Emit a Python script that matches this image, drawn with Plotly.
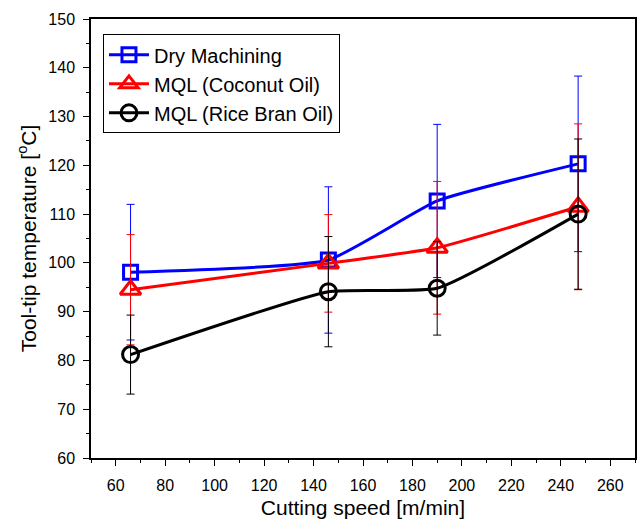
import plotly.graph_objects as go

speed = [66, 146, 190, 247]

dry = [98.1, 100.6, 112.7, 120.3]
dry_err = [13.9, 15.0, 15.7, 18.0]

coconut = [94.5, 99.9, 103.1, 111.5]
coconut_err = [11.3, 10.0, 13.6, 17.0]

rice = [81.2, 94.1, 94.8, 110.0]
rice_err = [8.1, 11.3, 9.6, 15.4]

names = ["Dry Machining", "MQL (Coconut Oil)", "MQL (Rice Bran Oil)"]
colors = ["#0000ff", "#ff0000", "#000000"]
symbols = ["square-open", "triangle-up-open", "circle-open"]
sizes = [14, 18, 16]

fig = go.Figure()
for name, y, err, c, s, sz in zip(names, [dry, coconut, rice], [dry_err, coconut_err, rice_err], colors, symbols, sizes):
    fig.add_trace(go.Scatter(
        x=speed, y=y, name=name, mode="lines+markers",
        line=dict(color=c, width=3, shape="spline", smoothing=0.45),
        marker=dict(symbol=s, size=sz, color=c, line=dict(width=3, color=c)),
        error_y=dict(type="data", array=err, visible=True, color=c, thickness=1, width=4),
    ))

FONT = "Liberation Sans, Arial, sans-serif"

axis_common = dict(
    showline=True, linecolor="black", linewidth=1.5, mirror=True,
    ticks="outside", ticklen=6, tickwidth=1.2, tickcolor="black",
    showgrid=False, zeroline=False,
    tickfont=dict(family=FONT, size=16, color="black"),
)

fig.update_layout(
    width=638, height=524,
    margin=dict(l=91, r=3, t=19, b=66, autoexpand=False),
    paper_bgcolor="white", plot_bgcolor="white",
    font=dict(family=FONT, color="black", size=16),
    xaxis=dict(range=[50, 270], dtick=20, tick0=0, ticklabelstandoff=6,
               minor=dict(ticks="outside", ticklen=3, dtick=10, tickcolor="black", tickwidth=1.2),
               title=dict(text="Cutting speed [m/min]", font=dict(family=FONT, size=21, color="black"), standoff=7),
               **axis_common),
    yaxis=dict(range=[60, 150], dtick=10, tick0=0, ticklabelstandoff=5,
               minor=dict(ticks="outside", ticklen=3, dtick=5, tickcolor="black", tickwidth=1.2),
               title=dict(text="Tool-tip temperature [<sup>o</sup>C]", font=dict(family=FONT, size=21, color="black"), standoff=6),
               **axis_common),
    legend=dict(x=0.022, y=0.965, xanchor="left", yanchor="top",
                bgcolor="white", bordercolor="black", borderwidth=1,
                font=dict(size=20, family=FONT, color="black"),
                tracegroupgap=0, itemwidth=40),
    showlegend=True,
)

fig.write_html("out.html")
